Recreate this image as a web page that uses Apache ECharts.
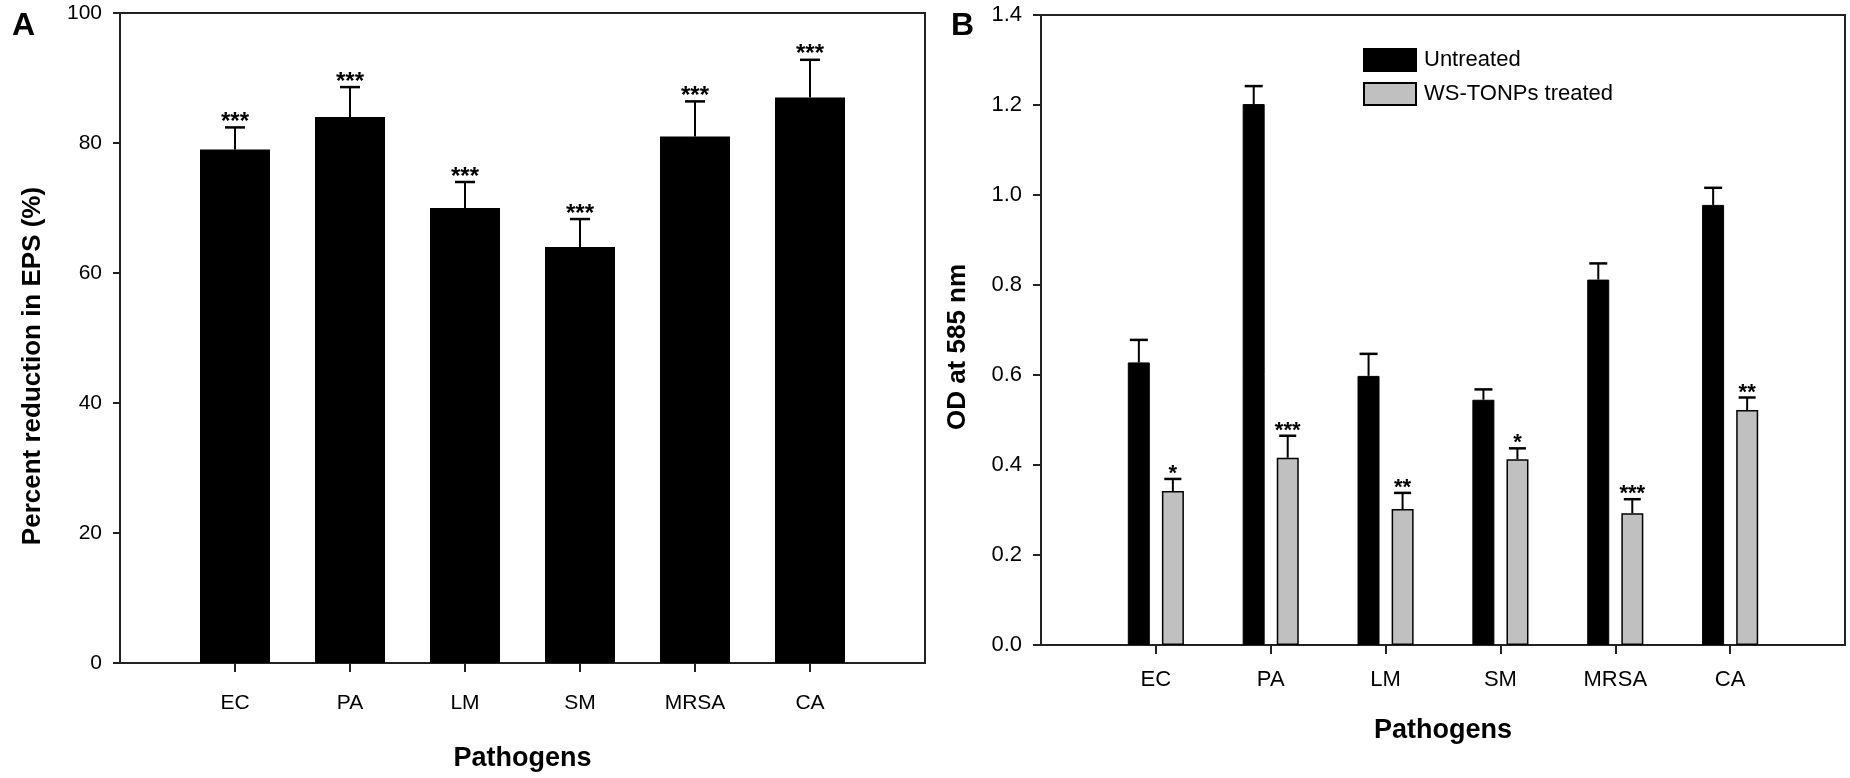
<!DOCTYPE html>
<html>
<head>
<meta charset="utf-8">
<script src="https://cdn.jsdelivr.net/npm/echarts@6/dist/echarts.min.js"></script>
<style>
  html, body { margin: 0; padding: 0; background: #fff; }
  #chart { width: 1850px; height: 778px; }
</style>
</head>
<body>
<div id="chart"></div>
<script>
// pathogens on both panels
const categories = ['EC', 'PA', 'LM', 'SM', 'MRSA', 'CA'];

// panel A: percent reduction in EPS
const epsReduction = [79, 84, 70, 64, 81, 87];
const epsSd = [3.4, 4.6, 4.0, 4.3, 5.4, 5.8];
const epsStars = ['***', '***', '***', '***', '***', '***'];

// panel B: OD at 585 nm
const odUntreated = [0.628, 1.202, 0.598, 0.545, 0.812, 0.978];
const odUntreatedSd = [0.050, 0.040, 0.049, 0.023, 0.036, 0.038];
const odTreated = [0.342, 0.416, 0.302, 0.413, 0.293, 0.522];
const odTreatedSd = [0.027, 0.049, 0.036, 0.024, 0.031, 0.028];
const odStars = ['*', '***', '**', '*', '***', '**'];
const noStars = ['', '', '', '', '', ''];

const FONT = "'Liberation Sans', Arial, sans-serif";
const AXIS_COLOR = '#222';

// one empty slot either side so the pathogens sit on ticks 1..6 of 0..7
const axisCats = ['', ...categories, ''];
const pad = arr => ['-', ...arr, '-'];
const errData = (vals, sds) => vals.map((v, i) => [i + 1, v, v + sds[i]]);

function errorBars(offset, capHalf, stars, starSize) {
  return function (params, api) {
    const x = api.value(0);
    const base = api.coord([x, api.value(1)]);
    const top = api.coord([x, api.value(2)]);
    const cx = base[0] + offset;
    return {
      type: 'group',
      children: [
        { type: 'line', shape: { x1: cx, y1: base[1], x2: cx, y2: top[1] },
          style: { stroke: '#000', lineWidth: 2 } },
        { type: 'line', shape: { x1: cx - capHalf, y1: top[1], x2: cx + capHalf, y2: top[1] },
          style: { stroke: '#000', lineWidth: 2.5 } },
        { type: 'text', x: cx, y: top[1] - 5,
          style: { text: stars[params.dataIndex], fill: '#000', align: 'center',
                   verticalAlign: 'middle', font: 'bold ' + starSize + 'px ' + FONT } }
      ]
    };
  };
}

function xAxis(gridIndex, fontSize, margin, nameGap) {
  return {
    type: 'category',
    gridIndex: gridIndex,
    data: axisCats,
    boundaryGap: false,
    axisLine: { lineStyle: { color: AXIS_COLOR, width: 2 } },
    axisTick: { interval: (i, v) => v !== '', length: 9, lineStyle: { color: AXIS_COLOR, width: 2 } },
    axisLabel: { interval: 0, fontSize: fontSize, color: '#000', fontFamily: FONT, margin: margin },
    name: 'Pathogens',
    nameLocation: 'middle',
    nameGap: nameGap,
    nameTextStyle: { fontSize: 27, fontWeight: 'bold', color: '#000', fontFamily: FONT },
    splitLine: { show: false }
  };
}

const chart = echarts.init(document.getElementById('chart'));
chart.setOption({
  animation: false,
  backgroundColor: '#fff',
  grid: [
    { left: 120, top: 13, width: 805, height: 650, show: true, borderColor: AXIS_COLOR, borderWidth: 2 },
    { left: 1041, top: 15, width: 804, height: 630, show: true, borderColor: AXIS_COLOR, borderWidth: 2 }
  ],
  legend: {
    data: ['Untreated', 'WS-TONPs treated'],
    orient: 'vertical',
    left: 1358,
    top: 43,
    icon: 'rect',
    itemWidth: 52,
    itemHeight: 22,
    itemGap: 10,
    textStyle: { fontSize: 22, color: '#000', fontFamily: FONT, padding: [0, 0, 0, 3] }
  },
  xAxis: [
    xAxis(0, 21, 30, 82),
    xAxis(1, 22, 24, 72)
  ],
  yAxis: [
    {
      type: 'value', gridIndex: 0, min: 0, max: 100, interval: 20,
      axisLine: { show: true, lineStyle: { color: AXIS_COLOR, width: 2 } },
      axisTick: { show: true, length: 7, lineStyle: { color: AXIS_COLOR, width: 2 } },
      axisLabel: { fontSize: 21, color: '#000', fontFamily: FONT, margin: 18 },
      splitLine: { show: false }
    },
    {
      type: 'value', gridIndex: 1, min: 0, max: 1.4, interval: 0.2,
      axisLine: { show: true, lineStyle: { color: AXIS_COLOR, width: 2 } },
      axisTick: { show: true, length: 8, lineStyle: { color: AXIS_COLOR, width: 2 } },
      axisLabel: { fontSize: 22, color: '#000', fontFamily: FONT, margin: 19,
                   formatter: v => v.toFixed(1) },
      splitLine: { show: false }
    }
  ],
  graphic: [
    { type: 'text', left: 12, top: 10, style: { text: 'A', font: 'bold 32px ' + FONT, fill: '#000' } },
    { type: 'text', left: 951, top: 10, style: { text: 'B', font: 'bold 32px ' + FONT, fill: '#000' } },
    { type: 'text', x: 33, y: 366, rotation: Math.PI / 2,
      style: { text: 'Percent reduction in EPS (%)', font: 'bold 26px ' + FONT, fill: '#000',
               align: 'center', verticalAlign: 'middle' } },
    { type: 'text', x: 958, y: 347, rotation: Math.PI / 2,
      style: { text: 'OD at 585 nm', font: 'bold 26px ' + FONT, fill: '#000',
               align: 'center', verticalAlign: 'middle' } }
  ],
  series: [
    {
      name: 'EPS reduction', type: 'bar', xAxisIndex: 0, yAxisIndex: 0,
      data: pad(epsReduction), barWidth: 70,
      itemStyle: { color: '#000' }
    },
    {
      type: 'custom', xAxisIndex: 0, yAxisIndex: 0, z: 5, clip: false,
      data: errData(epsReduction, epsSd),
      renderItem: errorBars(0, 10, epsStars, 24)
    },
    {
      name: 'Untreated', type: 'bar', xAxisIndex: 1, yAxisIndex: 1,
      data: pad(odUntreated), barWidth: 22, barGap: '55%',
      itemStyle: { color: '#000', borderColor: '#000', borderWidth: 1 }
    },
    {
      name: 'WS-TONPs treated', type: 'bar', xAxisIndex: 1, yAxisIndex: 1,
      data: pad(odTreated), barWidth: 22,
      itemStyle: { color: '#c0c0c0', borderColor: '#000', borderWidth: 1.5 }
    },
    {
      type: 'custom', xAxisIndex: 1, yAxisIndex: 1, z: 5, clip: false,
      data: errData(odUntreated, odUntreatedSd),
      renderItem: errorBars(-17, 9, noStars, 22)
    },
    {
      type: 'custom', xAxisIndex: 1, yAxisIndex: 1, z: 5, clip: false,
      data: errData(odTreated, odTreatedSd),
      renderItem: errorBars(17, 8.5, odStars, 22)
    }
  ]
});
</script>
</body>
</html>
